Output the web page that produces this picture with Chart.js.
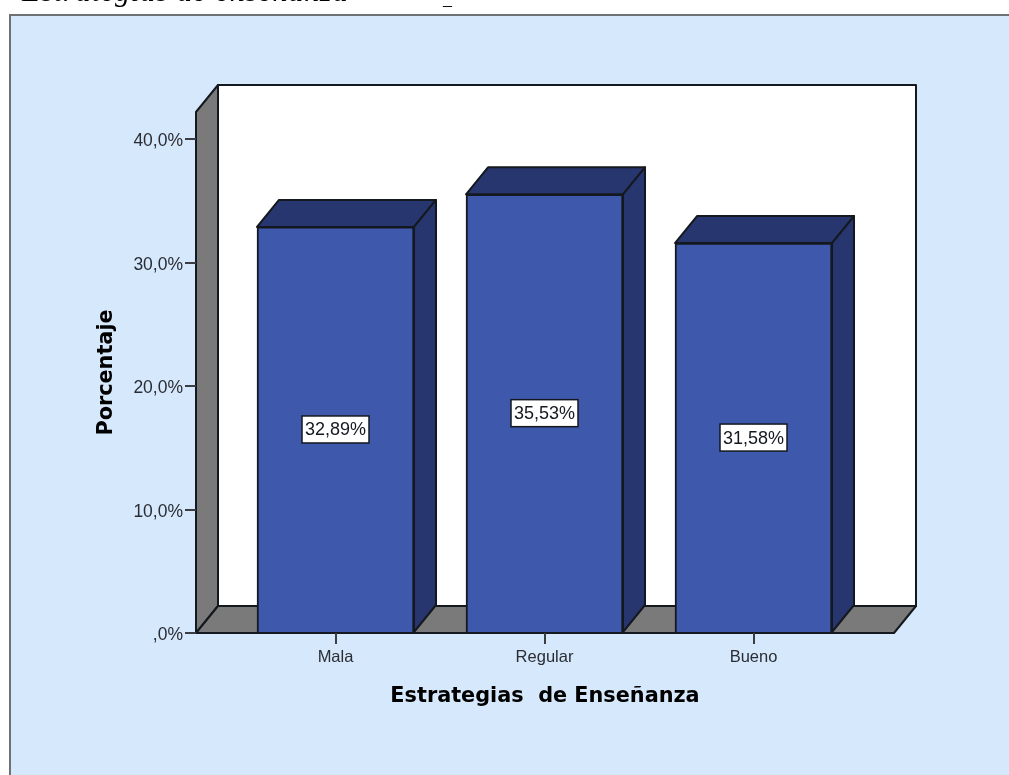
<!DOCTYPE html>
<html>
<head>
<meta charset="utf-8">
<style>
  html, body { margin: 0; padding: 0; background: #fff; }
  #wrap { position: relative; width: 1009px; height: 775px; overflow: hidden; }
</style>
<script src="https://cdn.jsdelivr.net/npm/chart.js@4"></script>
</head>
<body>
<div id="wrap"><canvas id="chart" width="1009" height="775"></canvas></div>
<script>
var categories = ["Mala", "Regular", "Bueno"];
var percentages = [32.89, 35.53, 31.58];
var percentLabels = ["32,89%", "35,53%", "31,58%"];
var yTickValues = [0, 10, 20, 30, 40];
var yTickLabels = [",0%", "10,0%", "20,0%", "30,0%", "40,0%"];

var DEPTH_X = 22;
var DEPTH_Y = 27;
var LINE = "#14181f";

function poly(ctx, pts, fill) {
  ctx.beginPath();
  ctx.moveTo(pts[0][0], pts[0][1]);
  for (var i = 1; i < pts.length; i++) ctx.lineTo(pts[i][0], pts[i][1]);
  ctx.closePath();
  ctx.fillStyle = fill;
  ctx.fill();
  ctx.lineWidth = 2;
  ctx.strokeStyle = LINE;
  ctx.lineJoin = "round";
  ctx.stroke();
}

// panel behind the chart, walls and floor of the 3D box
var boxPlugin = {
  id: "box",
  beforeDraw: function (chart) {
    var ctx = chart.ctx;
    var a = chart.chartArea;
    ctx.save();
    ctx.fillStyle = "#d6e8fb";
    ctx.fillRect(9, 14, 1000, 761);
    ctx.strokeStyle = "#6f7275";
    ctx.lineWidth = 2;
    ctx.beginPath();
    ctx.moveTo(10, 775);
    ctx.lineTo(10, 15);
    ctx.lineTo(1009, 15);
    ctx.stroke();

    // document text cut off above the screenshot
    ctx.fillStyle = "#000";
    ctx.font = "italic 30px 'Liberation Serif'";
    ctx.letterSpacing = "0.9px";
    ctx.textAlign = "left";
    ctx.textBaseline = "alphabetic";
    ctx.fillText("Estrategias de enseñanza", 22, 1);
    ctx.letterSpacing = "0px";
    ctx.font = "18px 'Liberation Serif'";
    ctx.fillText("_", 443, 5);

    poly(ctx, [[a.left + DEPTH_X, a.top - DEPTH_Y], [a.right + DEPTH_X, a.top - DEPTH_Y],
      [a.right + DEPTH_X, a.bottom - DEPTH_Y], [a.left + DEPTH_X, a.bottom - DEPTH_Y]], "#ffffff");
    poly(ctx, [[a.left, a.bottom], [a.left, a.top], [a.left + DEPTH_X, a.top - DEPTH_Y],
      [a.left + DEPTH_X, a.bottom - DEPTH_Y]], "#7a7a7a");
    poly(ctx, [[a.left, a.bottom], [a.right, a.bottom], [a.right + DEPTH_X, a.bottom - DEPTH_Y],
      [a.left + DEPTH_X, a.bottom - DEPTH_Y]], "#7a7a7a");
    ctx.restore();
  },
  // top and right side of every bar, under the front face
  beforeDatasetsDraw: function (chart) {
    var ctx = chart.ctx;
    ctx.save();
    chart.getDatasetMeta(0).data.forEach(function (bar) {
      var l = bar.x - bar.width / 2;
      var r = bar.x + bar.width / 2;
      poly(ctx, [[l, bar.y], [l + DEPTH_X, bar.y - DEPTH_Y], [r + DEPTH_X, bar.y - DEPTH_Y], [r, bar.y]], "#27366e");
      poly(ctx, [[r, bar.y], [r + DEPTH_X, bar.y - DEPTH_Y], [r + DEPTH_X, bar.base - DEPTH_Y], [r, bar.base]], "#27366e");
    });
    ctx.restore();
  },
  // boxed value labels in the middle of each bar
  afterDatasetsDraw: function (chart) {
    var ctx = chart.ctx;
    ctx.save();
    ctx.font = "18px 'Liberation Sans'";
    ctx.textAlign = "center";
    ctx.textBaseline = "middle";
    chart.getDatasetMeta(0).data.forEach(function (bar, i) {
      var cy = (bar.y + bar.base) / 2;
      ctx.fillStyle = "#fff";
      ctx.strokeStyle = LINE;
      ctx.lineWidth = 1.5;
      ctx.fillRect(bar.x - 33.5, cy - 13.5, 67, 27);
      ctx.strokeRect(bar.x - 33.5, cy - 13.5, 67, 27);
      ctx.fillStyle = "#14181f";
      ctx.fillText(percentLabels[i], bar.x, cy + 1);
    });
    ctx.restore();
  },
};

new Chart(document.getElementById("chart").getContext("2d"), {
  type: "bar",
  data: {
    datasets: [
      {
        data: categories.map(function (c, i) {
          return { x: i, y: percentages[i] };
        }),
        backgroundColor: "#3e58ab",
        borderColor: LINE,
        borderWidth: 2,
        barThickness: 157,
      },
    ],
  },
  plugins: [boxPlugin],
  options: {
    responsive: false,
    animation: false,
    layout: { padding: { top: 112, right: 115, left: 0, bottom: 0 } },
    plugins: {
      legend: { display: false },
      tooltip: { enabled: false },
    },
    scales: {
      x: {
        type: "linear",
        offset: false,
        min: -0.6675,
        max: 2.6722,
        afterFit: function (scale) {
          scale.height = 142;
        },
        afterBuildTicks: function (scale) {
          scale.ticks = categories.map(function (c, i) {
            return { value: i };
          });
        },
        border: { display: false },
        grid: { offset: false, drawOnChartArea: false, tickLength: 11, color: "#3a3d42", lineWidth: 2 },
        ticks: {
          autoSkip: false,
          maxRotation: 0,
          padding: 4,
          color: "#2a2d33",
          font: { size: 16.5, family: "Liberation Sans" },
          callback: function (value) {
            return categories[value];
          },
        },
        title: {
          display: true,
          text: "Estrategias  de Enseñanza",
          color: "#000",
          font: { size: 20.8, weight: "bold", family: "DejaVu Sans" },
          padding: { top: 0, bottom: 66 },
        },
      },
      y: {
        min: 0,
        max: 42.2,
        afterFit: function (scale) {
          scale.width = 196;
        },
        afterBuildTicks: function (scale) {
          scale.ticks = yTickValues.map(function (v) {
            return { value: v };
          });
        },
        border: { display: false },
        grid: { drawOnChartArea: false, tickLength: 11, color: "#3a3d42", lineWidth: 2 },
        ticks: {
          autoSkip: false,
          padding: 2,
          color: "#2a2d33",
          // blank first line with a small line height nudges the label below its tick
          font: { size: 17.5, family: "Liberation Sans", lineHeight: 0.28 },
          callback: function (value) {
            return ["", yTickLabels[yTickValues.indexOf(value)]];
          },
        },
        title: {
          display: true,
          text: "Porcentaje",
          color: "#000",
          font: { size: 20.8, weight: "bold", family: "DejaVu Sans" },
          padding: { top: 94, bottom: 0 },
        },
      },
    },
  },
});
</script>
</body>
</html>
